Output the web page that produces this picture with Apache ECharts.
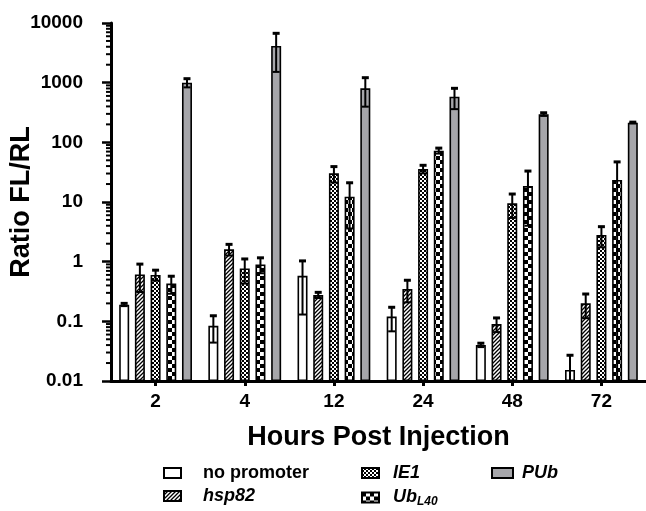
<!DOCTYPE html>
<html>
<head>
<meta charset="utf-8">
<script src="https://cdn.jsdelivr.net/npm/echarts@6/dist/echarts.min.js"></script>
<style>
html, body { margin: 0; padding: 0; background: #fff; }
#chart { width: 646px; height: 511px; }
</style>
</head>
<body>
<div id="chart"></div>
<script>
// data (mean and SD per series)
var hours = ['2', '4', '12', '24', '48', '72'];
var yTickLabels = ['0.01', '0.1', '1', '10', '100', '1000', '10000'];
var seriesNames = ['no promoter', 'hsp82', 'IE1', 'Ub_L40', 'PUb'];

var noPromoter   = [0.19, 0.084, 0.58, 0.12, 0.040, 0.0153];
var noPromoterSd = [0.01, 0.04, 0.45, 0.052, 0.003, 0.0117];
var hsp82        = [0.61, 1.61, 0.276, 0.348, 0.090, 0.20];
var hsp82Sd      = [0.30, 0.34, 0.03, 0.14, 0.024, 0.087];
var ie1          = [0.60, 0.77, 30.2, 35.7, 9.5, 2.8];
var ie1Sd        = [0.12, 0.34, 9, 5.5, 4.1, 1.06];
var ubL40        = [0.43, 0.90, 12.3, 72.4, 18.5, 23.4];
var ubL40Sd      = [0.14, 0.26, 8.7, 7.6, 14.5, 23.6];
var pub          = [1000, 4115, 804, 582, 295, 213];
var pubSd        = [166, 2600, 408, 222, 18, 5];

var means = [noPromoter, hsp82, ie1, ubL40, pub];
var sds = [noPromoterSd, hsp82Sd, ie1Sd, ubL40Sd, pubSd];

var FONT = 'Liberation Sans';
var BAR_W = 10;
var BAR_GAP = 0.57;
var BAR_STEP = BAR_W * (1 + BAR_GAP);

// fill patterns
function makePattern(size, draw) {
    var c = document.createElement('canvas');
    c.width = size; c.height = size;
    var ctx = c.getContext('2d');
    ctx.fillStyle = '#fff';
    ctx.fillRect(0, 0, size, size);
    ctx.fillStyle = '#000';
    ctx.strokeStyle = '#000';
    draw(ctx);
    return { image: c, repeat: 'repeat' };
}
var diagFill = makePattern(4, function (ctx) {
    ctx.lineWidth = 1.3;
    ctx.beginPath();
    ctx.moveTo(-1, 5); ctx.lineTo(5, -1);
    ctx.moveTo(-1, 1); ctx.lineTo(1, -1);
    ctx.moveTo(3, 5); ctx.lineTo(5, 3);
    ctx.stroke();
});
var fineFill = makePattern(4, function (ctx) {
    ctx.fillStyle = '#333';
    ctx.fillRect(0, 0, 4, 4);
    ctx.fillStyle = '#fff';
    ctx.fillRect(0, 0, 2, 2);
    ctx.fillRect(2, 2, 2, 2);
    ctx.fillStyle = '#000';
    ctx.fillRect(2, 0, 2, 2);
    ctx.fillRect(0, 2, 2, 2);
});
var checkFill = makePattern(8, function (ctx) {
    ctx.fillRect(0, 0, 4, 4);
    ctx.fillRect(4, 4, 4, 4);
});
var fills = ['#ffffff', diagFill, fineFill, checkFill, '#a6a6aa'];

var barSeries = seriesNames.map(function (name, s) {
    return {
        type: 'bar',
        name: name,
        data: means[s],
        barWidth: BAR_W,
        barGap: (BAR_GAP * 100) + '%',
        itemStyle: { color: fills[s], borderColor: '#000', borderWidth: 1.6 },
        z: 2
    };
});

var errData = [];
seriesNames.forEach(function (name, s) {
    hours.forEach(function (h, i) {
        errData.push([i, s, means[s][i], sds[s][i]]);
    });
});

// log minor ticks on the y axis (2..9 of every decade)
var minorTickVals = [];
[0.01, 0.1, 1, 10, 100, 1000].forEach(function (d) {
    for (var k = 2; k <= 9; k++) minorTickVals.push([0, d * k]);
});

function legendText(name) {
    if (name === 'no promoter') return '{n|no promoter}';
    if (name === 'Ub_L40') return '{i|Ub}{s|L40}';
    return '{i|' + name + '}';
}

var rich = {
    n: { fontSize: 18, fontWeight: 'bold', color: '#000', fontFamily: FONT, lineHeight: 18 },
    i: { fontSize: 18, fontWeight: 'bold', fontStyle: 'italic', color: '#000', fontFamily: FONT, lineHeight: 18 },
    s: { fontSize: 12, fontWeight: 'bold', fontStyle: 'italic', color: '#000', fontFamily: FONT, lineHeight: 18, padding: [9, 0, 0, 0] }
};

var chart = echarts.init(document.getElementById('chart'));
chart.setOption({
    animation: false,
    backgroundColor: '#fff',
    textStyle: { fontFamily: FONT },
    grid: { left: 111, right: 0, top: 23, bottom: 130, outerBoundsMode: 'none', containLabel: false },
    xAxis: {
        type: 'category',
        data: hours,
        name: 'Hours Post Injection',
        nameLocation: 'middle',
        nameGap: 43,
        nameMoveOverlap: false,
        nameTextStyle: { fontSize: 27, fontWeight: 'bold', color: '#000', fontFamily: FONT },
        axisLine: { lineStyle: { color: '#000', width: 3 } },
        axisTick: { show: true, alignWithLabel: true, length: 5, lineStyle: { color: '#000', width: 3 } },
        axisLabel: { fontSize: 19, fontWeight: 'bold', color: '#000', margin: 11, fontFamily: FONT },
        splitLine: { show: false }
    },
    yAxis: {
        type: 'log',
        logBase: 10,
        min: 0.01,
        max: 10000,
        startValue: 0.01,
        name: 'Ratio FL/RL',
        nameLocation: 'middle',
        nameGap: 76,
        nameMoveOverlap: false,
        nameTextStyle: { fontSize: 27, fontWeight: 'bold', color: '#000', fontFamily: FONT },
        axisLine: { show: true, lineStyle: { color: '#000', width: 3 } },
        axisTick: { show: true, length: 9, lineStyle: { color: '#000', width: 2.5 } },
        axisLabel: {
            fontSize: 19, fontWeight: 'bold', color: '#000', margin: 28, fontFamily: FONT,
            formatter: function (v, idx) { return yTickLabels[idx]; }
        },
        splitLine: { show: false }
    },
    legend: [
        {
            orient: 'vertical', left: 163, top: 464, itemGap: 5, padding: 0,
            itemWidth: 17, itemHeight: 10, icon: 'rect',
            data: ['no promoter', 'hsp82'],
            textStyle: { padding: [0, 0, 0, 17], rich: rich },
            formatter: legendText
        },
        {
            orient: 'vertical', left: 361, top: 464, itemGap: 5, padding: 0,
            itemWidth: 17, itemHeight: 10, icon: 'rect',
            data: ['IE1', 'Ub_L40'],
            textStyle: { padding: [0, 0, 0, 9], rich: rich },
            formatter: legendText
        },
        {
            orient: 'vertical', left: 491, top: 464, itemGap: 5, padding: 0,
            itemWidth: 21, itemHeight: 10, icon: 'rect',
            data: ['PUb'],
            textStyle: { padding: [0, 0, 0, 4], rich: rich },
            formatter: legendText
        }
    ],
    series: barSeries.concat([
        {
            type: 'custom',
            name: 'err',
            data: errData,
            encode: { x: 0, y: 2 },
            z: 5,
            clip: false,
            renderItem: function (params, api) {
                var i = api.value(0), s = api.value(1), m = api.value(2), sd = api.value(3);
                var cs = params.coordSys;
                var x = api.coord([i, m])[0] + (s - 2) * BAR_STEP;
                var hi = api.coord([i, m + sd])[1];
                var hasLo = m - sd > 0.01;
                var lo = hasLo ? api.coord([i, m - sd])[1] : cs.y + cs.height;
                var st = { stroke: '#000', lineWidth: 2 };
                var kids = [
                    { type: 'line', shape: { x1: x, y1: hi, x2: x, y2: lo }, style: st },
                    { type: 'line', shape: { x1: x - 3.5, y1: hi, x2: x + 3.5, y2: hi }, style: { stroke: '#000', lineWidth: 3 } }
                ];
                if (hasLo) {
                    kids.push({ type: 'line', shape: { x1: x - 3.5, y1: lo, x2: x + 3.5, y2: lo }, style: { stroke: '#000', lineWidth: 2 } });
                }
                return { type: 'group', children: kids };
            }
        },
        {
            type: 'custom',
            name: 'minor',
            data: minorTickVals,
            encode: { x: 0, y: 1 },
            z: 6,
            clip: false,
            silent: true,
            renderItem: function (params, api) {
                var cs = params.coordSys;
                var y = api.coord([0, api.value(1)])[1];
                return {
                    type: 'line',
                    shape: { x1: cs.x - 5, y1: y, x2: cs.x, y2: y },
                    style: { stroke: '#000', lineWidth: 2 }
                };
            }
        }
    ])
});
</script>
</body>
</html>
